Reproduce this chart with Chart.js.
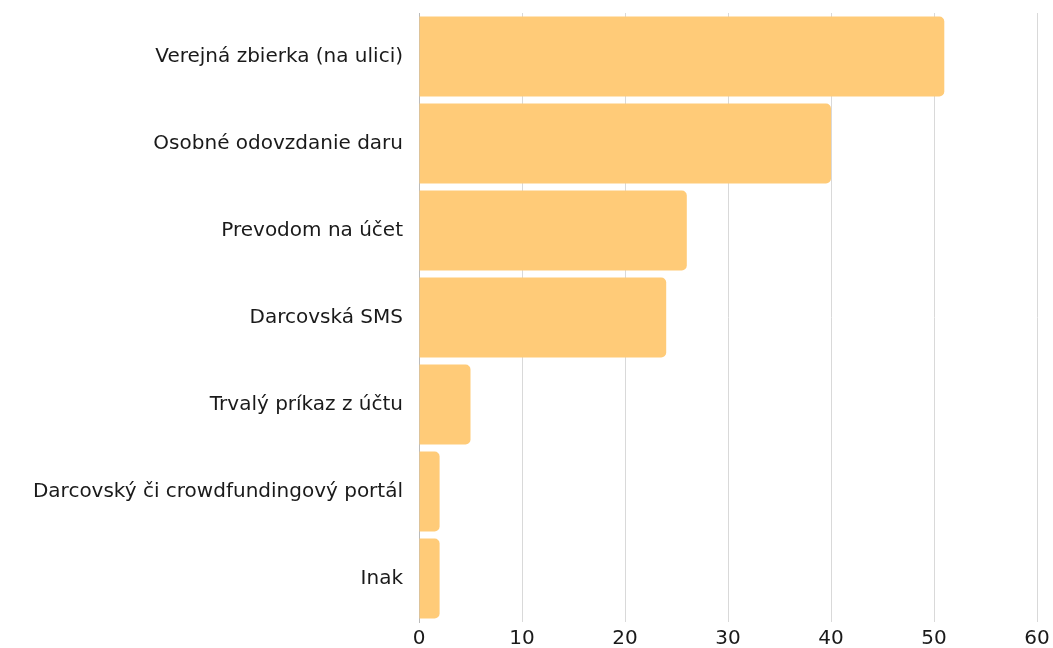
<!DOCTYPE html>
<html>
<head>
<meta charset="utf-8">
<script src="https://cdn.jsdelivr.net/npm/chart.js@4"></script>
<style>
html,body{margin:0;padding:0;background:#fff;}
#wrap{width:1053px;height:648px;position:relative;}
</style>
</head>
<body>
<div id="wrap"><canvas id="c"></canvas></div>
<script>
const categories = [
  "Verejná zbierka (na ulici)",
  "Osobné odovzdanie daru",
  "Prevodom na účet",
  "Darcovská SMS",
  "Trvalý príkaz z účtu",
  "Darcovský či crowdfundingový portál",
  "Inak"
];
const values = [51, 40, 26, 24, 5, 2, 2];
const xTicks = [0, 10, 20, 30, 40, 50, 60];

new Chart(document.getElementById('c'), {
  type: 'bar',
  data: {
    labels: categories,
    datasets: [{
      data: values,
      backgroundColor: '#ffcb78',
      borderRadius: 5,
      borderSkipped: 'start',
      barPercentage: 0.92,
      categoryPercentage: 1.0
    }]
  },
  options: {
    indexAxis: 'y',
    responsive: true,
    maintainAspectRatio: false,
    animation: false,
    layout: { padding: { top: 13, right: 0, bottom: 0, left: 0 } },
    plugins: { legend: { display: false }, tooltip: { enabled: false } },
    scales: {
      x: {
        min: 0, max: 60,
        afterBuildTicks: (s) => { s.ticks = xTicks.map(v => ({ value: v })); },
        afterFit: (s) => { s.height = 26; s.paddingRight = 16; s.paddingLeft = 0; },
        grid: { color: '#d9d9d9', drawTicks: false, lineWidth: 1 },
        border: { display: false },
        ticks: { color: '#1a1a1a', font: { family: 'DejaVu Sans', size: 20 }, padding: 5 }
      },
      y: {
        afterFit: (s) => { s.width = 419; s.paddingTop = 0; s.paddingBottom = 0; },
        grid: { display: false, drawTicks: false },
        border: { display: true, color: '#bbbbbb' },
        ticks: { color: '#1a1a1a', font: { family: 'DejaVu Sans', size: 20 }, padding: 16 }
      }
    }
  }
});
</script>
</body>
</html>
